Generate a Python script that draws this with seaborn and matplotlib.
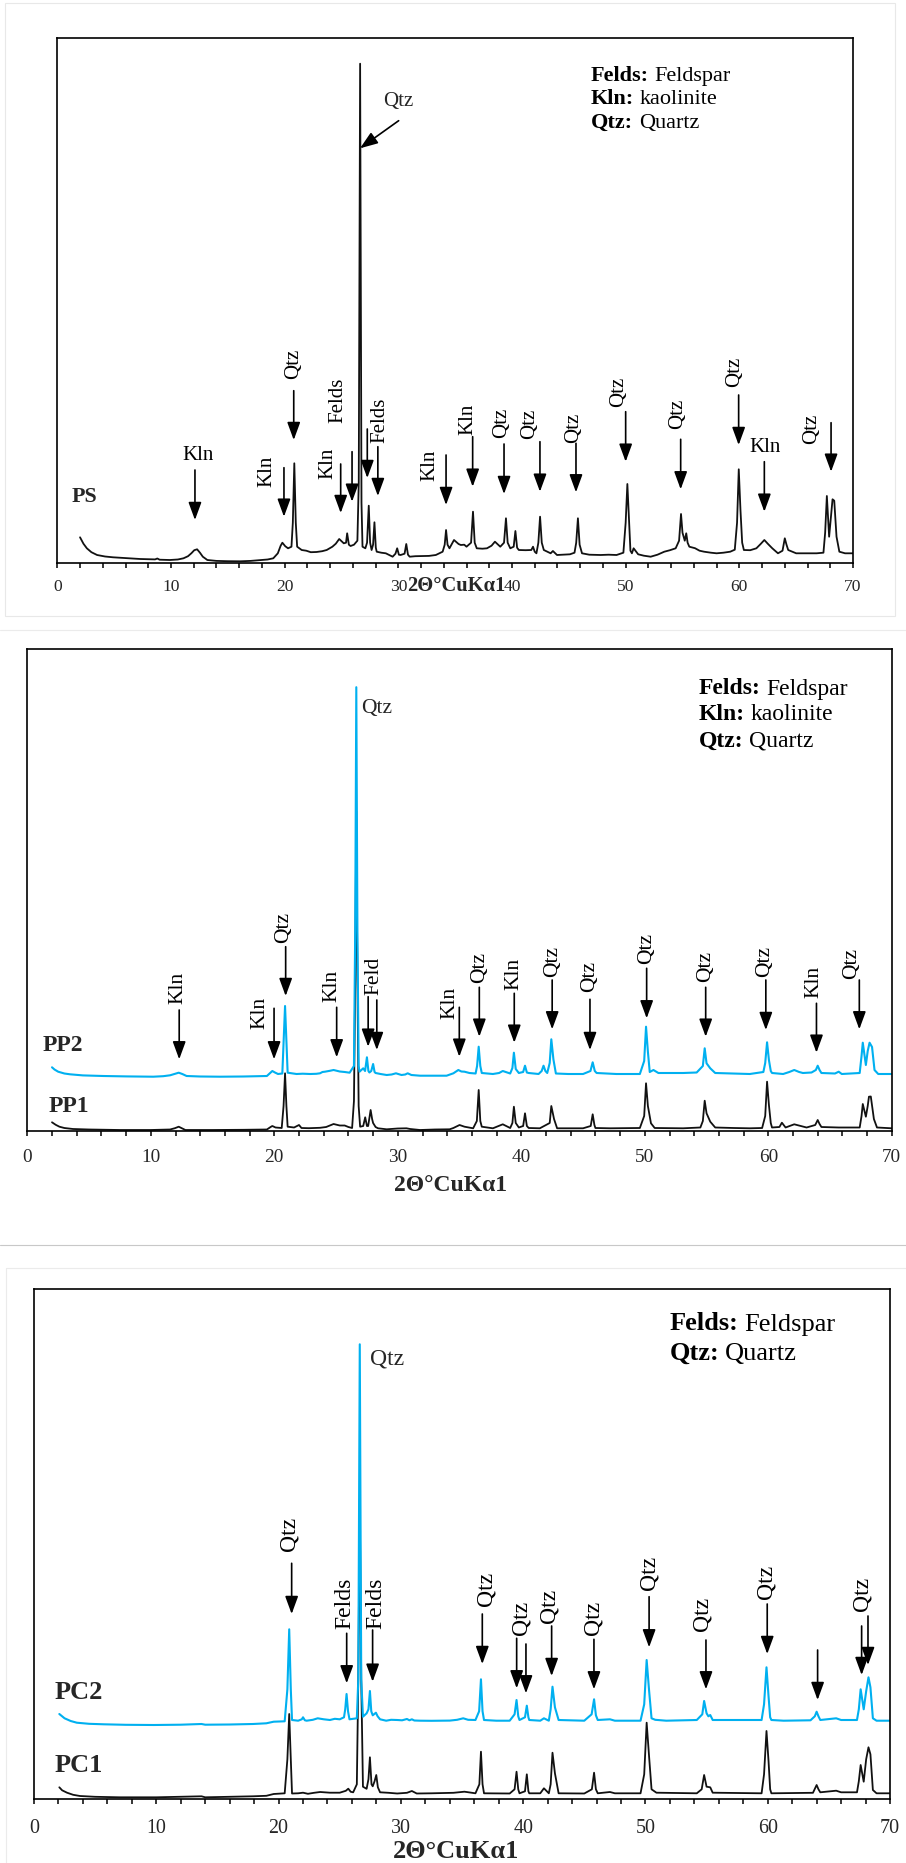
import matplotlib
matplotlib.use("Agg")
import matplotlib.pyplot as plt
import seaborn as sns
from matplotlib.offsetbox import TextArea, HPacker, AnnotationBbox
from matplotlib.lines import Line2D
from matplotlib.patches import Rectangle

# ---------------- data (2θ in degrees, intensity in arbitrary units) ----------------
ps_points = [
    (2.0, 25.4), (2.3, 19), (2.6, 14.4), (3.0, 10.5), (3.5, 7.7), (4.2, 6.2), (4.9, 5.4), (6.0, 4.6),
    (7.3, 3.7), (8.6, 3.3), (8.8, 4.2), (9.0, 3.0), (9.9, 2.7), (10.6, 3.2), (11.1, 4.4), (11.5, 6.5),
    (11.8, 9.5), (12.05, 12.5), (12.3, 13.4), (12.55, 10), (12.8, 6), (13.2, 2.7), (14.0, 1.8), (15.0, 1.5),
    (16.1, 1.4), (17.0, 1.8), (17.9, 2.7), (18.5, 3.2), (19.0, 4.4), (19.4, 9.4), (19.65, 17), (19.8, 20),
    (20.05, 16.5), (20.3, 14.4), (20.6, 16), (20.72, 40), (20.85, 99.4), (20.98, 40), (21.1, 16), (21.5, 12.7),
    (21.9, 12), (22.3, 10.5), (22.8, 10.7), (23.3, 11.5), (23.7, 12.7), (24.2, 16), (24.5, 19), (24.8, 23.7),
    (25.2, 19.4), (25.4, 20), (25.5, 29.4), (25.65, 18), (25.8, 16.7), (26.1, 18), (26.4, 22), (26.52, 80),
    (26.64, 499), (26.76, 60), (26.85, 16), (27.1, 14.4), (27.25, 20), (27.4, 57), (27.52, 20), (27.65, 12.7),
    (27.78, 18), (27.9, 40.4), (28.02, 15), (28.1, 11), (28.5, 10), (28.9, 9.4), (29.5, 6), (29.75, 9),
    (29.9, 14.4), (30.05, 8), (30.2, 7.7), (30.55, 9), (30.7, 18.7), (30.85, 8), (31.0, 6), (31.5, 6.5),
    (32.1, 6.7), (32.7, 6.8), (33.3, 7.7), (33.9, 11), (34.08, 18), (34.2, 32.7), (34.33, 18), (34.5, 14.4),
    (34.9, 22.7), (35.3, 18.7), (35.5, 17.7), (35.8, 18), (36.0, 16), (36.4, 20), (36.57, 51), (36.72, 20),
    (36.9, 14.4), (37.4, 14), (37.8, 14.4), (38.2, 17), (38.5, 21), (38.97, 16), (39.3, 20), (39.47, 44.4),
    (39.62, 20), (39.85, 14.4), (40.15, 16), (40.3, 31.7), (40.45, 15), (40.6, 12.7), (41.2, 12.5), (41.7, 12.7),
    (41.85, 16), (42.0, 11), (42.15, 9.4), (42.32, 20), (42.47, 46), (42.62, 20), (42.8, 12.7), (43.4, 9.4),
    (43.6, 11.7), (43.96, 7.7), (44.5, 8), (45.1, 8.4), (45.5, 10), (45.65, 20), (45.8, 44.4), (45.95, 18),
    (46.16, 9.4), (46.8, 8), (47.8, 7.7), (48.5, 8), (49.2, 7.7), (49.8, 10), (50.0, 40), (50.15, 78.7),
    (50.3, 42.7), (50.42, 12), (50.55, 9.4), (50.7, 14.4), (51.1, 8.4), (51.6, 7), (52.2, 6), (52.8, 8),
    (53.4, 11), (53.9, 12.5), (54.4, 14.4), (54.7, 22), (54.87, 48.7), (55.0, 30), (55.1, 26), (55.2, 22),
    (55.33, 29.4), (55.45, 20), (55.6, 16), (56.1, 14.5), (56.5, 12), (56.9, 11), (57.5, 10), (58.0, 9.4),
    (58.6, 10), (59.2, 11), (59.6, 13), (59.8, 40), (59.95, 93.4), (60.1, 52.7), (60.25, 20), (60.4, 12.7),
    (60.96, 12.5), (61.5, 14.4), (61.9, 19), (62.2, 22.7), (62.5, 19), (62.9, 14.4), (63.4, 9.4), (63.8, 12),
    (64.0, 24.4), (64.15, 18), (64.3, 12.7), (65.0, 9.4), (65.9, 9.4), (66.8, 9.4), (67.4, 10), (67.55, 30),
    (67.7, 66.7), (67.9, 26), (68.05, 45), (68.2, 63.4), (68.35, 62), (68.55, 26), (68.8, 11), (69.3, 9.4),
    (70.0, 9.4),
]

pp2_points = [
    (2.0, 63.7), (2.2, 61.5), (2.5, 59.3), (3.0, 57.5), (3.46, 56.7), (4.5, 55.6), (6.16, 55), (8.0, 54.6),
    (10.2, 54.3), (11.0, 54.8), (11.56, 55.7), (12.0, 57.3), (12.26, 58.3), (12.55, 57), (12.9, 55), (14.0, 54.5),
    (15.6, 54.3), (17.5, 54.5), (19.4, 55), (19.7, 58.5), (19.84, 60), (20.05, 58.5), (20.3, 57), (20.65, 57.5),
    (20.76, 90), (20.87, 125), (20.98, 90), (21.08, 58.3), (21.8, 57), (22.3, 57.3), (22.9, 57), (23.4, 57.2),
    (23.7, 57.7), (23.9, 59), (24.1, 59.3), (24.5, 60.2), (24.8, 61), (25.3, 59.5), (25.7, 59), (26.1, 58.3),
    (26.45, 65), (26.55, 200), (26.64, 443.8), (26.73, 200), (26.83, 65), (26.9, 59.3), (27.05, 61), (27.2, 62.7),
    (27.35, 60), (27.5, 73.7), (27.62, 60), (27.7, 58.5), (27.85, 60), (28.0, 67), (28.12, 59), (28.2, 58),
    (28.6, 57), (29.1, 56), (29.5, 56.5), (29.85, 57.7), (30.3, 56), (30.6, 56.5), (30.8, 57.7), (31.1, 56),
    (31.8, 55.3), (33.0, 55.3), (33.95, 55.3), (34.5, 57.7), (34.9, 61), (35.15, 59.5), (35.4, 59.3), (35.8, 58),
    (36.3, 57.5), (36.42, 65), (36.55, 84.3), (36.68, 65), (36.8, 58), (37.7, 57), (38.2, 58), (38.5, 60),
    (39.1, 57.5), (39.28, 63), (39.4, 78.3), (39.55, 62), (39.8, 58), (40.15, 59), (40.3, 65.3), (40.45, 58.5),
    (40.6, 58), (41.4, 57), (41.65, 60), (41.8, 65.3), (41.95, 60), (42.1, 58), (42.3, 68), (42.43, 91.7),
    (42.6, 71.7), (42.8, 57.5), (43.8, 57), (45.0, 57), (45.6, 60), (45.78, 68.7), (45.95, 60), (46.1, 58),
    (47.7, 57), (49.6, 57), (49.95, 70), (50.1, 104.3), (50.25, 79.3), (50.4, 59), (50.7, 61), (51.1, 58),
    (53.1, 58), (54.2, 58.5), (54.7, 65), (54.85, 82.7), (55.0, 67.7), (55.3, 62.7), (55.7, 58), (57.0, 57.5),
    (58.5, 57), (59.6, 59), (59.75, 68), (59.9, 88.7), (60.05, 71), (60.2, 60), (60.3, 58), (61.2, 57),
    (61.7, 59), (62.1, 61), (62.5, 59), (62.8, 58), (63.5, 58.5), (63.85, 61), (64.0, 65.3), (64.15, 61),
    (64.3, 58), (65.4, 57.5), (65.7, 59.3), (65.95, 57), (67.4, 58), (67.55, 75), (67.65, 88.3), (67.9, 66),
    (68.05, 80), (68.2, 88.3), (68.4, 84), (68.6, 61), (68.9, 57), (70.0, 57),
]

pp1_points = [
    (2.0, 8.7), (2.3, 6.2), (2.6, 4.3), (3.0, 3.0), (3.7, 2), (5.0, 1.5), (7.5, 1), (10.0, 1),
    (11.56, 1.5), (11.95, 2.8), (12.26, 4.3), (12.55, 2.5), (12.8, 1), (15.0, 1), (17.5, 1.2), (19.4, 1.5),
    (19.7, 4), (19.84, 5), (20.1, 3.5), (20.6, 3), (20.75, 25), (20.87, 57.7), (20.98, 25), (21.08, 4.3),
    (21.6, 3.5), (22.0, 6), (22.2, 3), (22.8, 2.8), (23.7, 3.2), (24.2, 4), (24.8, 7), (25.3, 5.5),
    (25.7, 5.5), (26.0, 4), (26.3, 3), (26.45, 30), (26.55, 150), (26.64, 320), (26.73, 150), (26.83, 25),
    (26.95, 4.3), (27.2, 5), (27.36, 13.7), (27.5, 5), (27.6, 5), (27.8, 21), (27.92, 12), (28.0, 8),
    (28.2, 4), (28.4, 2.7), (29.1, 1.7), (30.0, 2.5), (30.7, 2.7), (31.0, 2), (31.8, 1), (33.0, 1.5),
    (34.2, 1.7), (34.5, 3), (35.0, 6), (35.4, 4.3), (36.1, 2.7), (36.4, 10), (36.55, 41), (36.68, 10),
    (36.8, 4.3), (37.7, 2.7), (38.5, 6.7), (39.1, 3), (39.28, 8), (39.4, 24.3), (39.55, 8), (39.8, 3.5),
    (40.15, 5), (40.3, 17.7), (40.45, 5), (40.6, 3), (41.5, 2.7), (42.3, 8), (42.43, 25), (42.65, 12),
    (42.9, 2.7), (45.0, 2.7), (45.62, 5), (45.78, 16.7), (45.92, 6), (46.0, 3), (47.2, 2.7), (49.6, 3),
    (49.95, 15), (50.1, 47.7), (50.25, 25), (50.5, 7.7), (50.8, 3), (53.1, 2.7), (54.5, 3.5), (54.7, 10),
    (54.85, 30.3), (55.0, 17.7), (55.3, 9.3), (55.7, 3.5), (57.2, 3), (58.5, 2.7), (59.5, 3), (59.75, 15),
    (59.9, 49.3), (60.05, 26), (60.2, 8), (60.3, 3.5), (60.9, 4), (61.1, 8.3), (61.4, 3.5), (62.1, 6.7),
    (63.1, 3.5), (63.8, 6), (64.0, 11), (64.15, 7), (64.3, 4), (65.7, 3.5), (67.4, 3.5), (67.55, 15),
    (67.65, 27), (67.9, 14.3), (68.05, 25), (68.15, 34.3), (68.3, 34.5), (68.55, 12), (68.8, 3.5), (70.0, 2.7),
]

pc2_points = [
    (2.07, 85.3), (2.3, 83), (2.5, 81), (3.0, 78.3), (3.5, 76.6), (4.5, 75.5), (5.7, 75), (7.5, 74.5),
    (9.8, 74.3), (12.0, 74.6), (13.7, 75.3), (14.0, 74.6), (16.0, 74.8), (17.9, 75.3), (19.0, 76), (19.6, 77.6),
    (20.5, 78), (20.72, 110), (20.87, 170), (21.0, 110), (21.1, 79.3), (21.6, 78.6), (21.9, 80), (22.0, 82),
    (22.15, 79), (22.3, 78.6), (22.8, 79.5), (23.2, 81), (23.7, 80), (24.2, 79.3), (24.6, 80.5), (25.0, 80),
    (25.35, 82), (25.45, 90), (25.56, 105.3), (25.68, 88), (25.8, 80), (26.1, 80.5), (26.4, 81), (26.52, 120),
    (26.64, 455), (26.76, 120), (26.9, 82.6), (27.2, 86), (27.35, 90), (27.47, 108.3), (27.58, 88), (27.7, 84),
    (27.96, 86.6), (28.1, 83), (28.3, 80), (28.8, 78.6), (29.2, 79.5), (29.7, 79.3), (30.1, 79), (30.5, 80.3),
    (30.7, 79), (30.9, 80), (31.1, 78.8), (31.6, 78.6), (32.5, 78.5), (33.3, 78.6), (34.0, 78.7), (34.6, 79.5),
    (35.1, 81), (35.5, 79.5), (36.1, 79.3), (36.4, 88), (36.55, 120), (36.68, 88), (36.8, 79.3), (37.8, 78.6),
    (38.9, 78.6), (39.3, 85), (39.46, 99.3), (39.6, 83), (39.7, 79.3), (40.15, 82), (40.3, 93.6), (40.43, 82),
    (40.5, 79.3), (41.4, 78.6), (41.7, 81), (42.1, 78.6), (42.25, 90), (42.4, 112.6), (42.6, 92), (42.9, 79.3),
    (45.0, 78.6), (45.6, 85), (45.8, 100), (45.95, 84), (46.1, 79.3), (47.1, 80), (47.5, 78.6), (49.6, 78.6),
    (49.9, 95), (50.1, 139.3), (50.3, 108.6), (50.5, 81), (50.8, 79.5), (51.7, 78.6), (54.2, 79.3), (54.65, 85),
    (54.8, 98.3), (55.0, 86), (55.15, 83), (55.3, 84.3), (55.5, 79.3), (57.2, 79.3), (59.5, 79.3), (59.7, 95),
    (59.9, 132), (60.07, 102.6), (60.2, 82), (60.3, 79.3), (61.3, 78.6), (63.5, 79), (63.85, 83), (64.0, 87.6),
    (64.15, 83), (64.3, 79.3), (65.6, 81), (66.0, 79.3), (67.3, 79.3), (67.45, 90), (67.6, 110), (67.85, 90),
    (68.05, 108), (68.24, 122), (68.4, 112), (68.6, 81), (68.9, 78.6), (70.0, 78.6),
]

pc1_points = [
    (2.07, 12), (2.3, 9), (2.7, 6.6), (3.2, 4.5), (3.76, 3.3), (5.0, 2.5), (7.0, 2), (10.0, 2),
    (13.7, 3), (14.0, 2), (17.9, 3), (19.0, 3.5), (19.6, 5.3), (20.5, 6), (20.72, 40), (20.87, 85.3),
    (21.0, 40), (21.1, 5.8), (21.6, 6), (22.0, 6.6), (22.4, 5.5), (22.9, 6.5), (23.4, 7.3), (24.2, 6.6),
    (25.0, 6.6), (25.5, 8.5), (25.7, 10.6), (25.9, 7.5), (26.1, 7), (26.4, 15), (26.52, 120), (26.64, 300),
    (26.76, 120), (26.9, 12.6), (27.2, 10.5), (27.35, 20), (27.47, 42), (27.6, 15), (27.7, 13), (27.85, 18),
    (27.99, 24.3), (28.12, 12), (28.3, 7), (29.0, 6.5), (29.7, 5.8), (30.5, 6.5), (30.9, 8.3), (31.3, 5.8),
    (32.5, 6), (34.3, 6.5), (35.2, 7.6), (36.1, 6), (36.42, 15), (36.55, 47.6), (36.68, 15), (36.8, 6),
    (38.9, 5.8), (39.3, 10), (39.46, 27.6), (39.6, 10), (39.7, 6), (40.15, 8), (40.3, 25), (40.43, 8),
    (40.5, 6), (41.4, 6), (41.7, 11), (42.1, 6), (42.25, 15), (42.4, 46.6), (42.6, 26), (42.9, 6),
    (45.0, 5.8), (45.62, 10), (45.8, 26.6), (45.95, 10), (46.1, 6), (47.1, 7.3), (47.5, 6), (49.6, 6),
    (49.9, 25), (50.1, 76.6), (50.3, 42.6), (50.5, 10), (50.9, 6.6), (54.2, 6), (54.6, 10), (54.8, 24.3),
    (55.0, 12.6), (55.3, 12), (55.5, 6.6), (59.5, 6), (59.7, 25), (59.9, 68.3), (60.07, 37.6), (60.2, 10),
    (60.3, 6), (63.7, 6.5), (64.0, 14.3), (64.15, 10), (64.3, 7), (65.6, 8.6), (66.0, 7), (67.3, 7),
    (67.45, 18), (67.6, 34.3), (67.85, 17.6), (68.05, 40), (68.24, 52), (68.4, 45), (68.6, 9.3), (68.9, 6),
    (70.0, 6),
]

x_ticks = [0, 10, 20, 30, 40, 50, 60, 70]
x_label = "2Θ°CuKα1"
legend_p1 = [("Felds:", "Feldspar"), ("Kln:", "kaolinite"), ("Qtz:", "Quartz")]
legend_p2 = [("Felds:", "Feldspar"), ("Kln:", "kaolinite"), ("Qtz:", "Quartz")]
legend_p3 = [("Felds:", "Feldspar"), ("Qtz:", "Quartz")]

# peak annotations: (label, text x, text y, rotation, [(arrow x, arrow top, arrow tip), ...])
notes_p1 = [
    ("Kln", 12.4, 107.7, 0, [(12.11, 92.7, 42.7)]),
    ("Kln", 18.42, 91, 90, [(19.94, 95, 46)]),
    ("Qtz", 20.76, 198.7, 90, [(20.8, 172, 122.7)]),
    ("Kln", 23.84, 99.7, 90, [(24.93, 98.7, 49.7)]),
    ("Felds", 24.72, 162.7, 90, [(25.93, 111, 61), (27.27, 133.7, 84.7)]),
    ("Felds", 28.39, 142.7, 90, [(28.2, 116, 66.7)]),
    ("Kln", 32.79, 97.7, 90, [(34.2, 107.7, 57.7)]),
    ("Kln", 36.16, 143.7, 90, [(36.54, 126, 76)]),
    ("Qtz", 39.1, 139.7, 90, [(39.3, 118.7, 68.7)]),
    ("Qtz", 41.59, 138.7, 90, [(42.46, 121, 71)]),
    ("Qtz", 45.4, 135.2, 90, [(45.63, 119.4, 70.4)]),
    ("Qtz", 49.35, 171, 90, [(50.0, 151, 101)]),
    ("Qtz", 54.54, 148.7, 90, [(54.84, 123.4, 73.4)]),
    ("Qtz", 59.62, 191, 90, [(59.94, 167.7, 117.7)]),
    ("Kln", 62.26, 115.4, 0, [(62.2, 101, 51)]),
    ("Qtz", 66.37, 133.7, 90, [(68.07, 140, 91)]),
]
notes_p2 = [
    ("Kln", 12.2, 142.7, 90, [(12.3, 121, 71.7)]),
    ("Kln", 18.8, 117.7, 90, [(19.98, 122.7, 71.7)]),
    ("Qtz", 20.73, 203.5, 90, [(20.92, 184.3, 135)]),
    ("Kln", 24.7, 145, 90, [(25.05, 123.7, 73.7)]),
    ("Feld", 28.07, 155, 90, [(27.6, 134.3, 84.3), (28.3, 131, 81)]),
    ("Kln", 34.2, 128.5, 90, [(34.98, 123.7, 74.3)]),
    ("Qtz", 36.6, 163.5, 90, [(36.6, 143.7, 94.3)]),
    ("Kln", 39.4, 157, 90, [(39.43, 137.7, 88.3)]),
    ("Qtz", 42.5, 169.3, 90, [(42.5, 151, 101.7)]),
    ("Qtz", 45.5, 154.3, 90, [(45.56, 131.7, 81)]),
    ("Qtz", 50.15, 182.7, 90, [(50.15, 162.7, 112.7)]),
    ("Qtz", 54.9, 164.3, 90, [(54.93, 143.7, 94.3)]),
    ("Qtz", 59.7, 169.3, 90, [(59.8, 151, 101)]),
    ("Kln", 63.7, 149.3, 90, [(63.9, 127.7, 78.3)]),
    ("Qtz", 66.75, 167.7, 90, [(67.37, 151, 101.7)]),
]
notes_p3 = [
    ("Qtz", 20.88, 265.3, 90, [(21.07, 236, 185.3)]),
    ("Felds", 25.43, 196, 90, [(25.57, 166, 116)]),
    ("Felds", 27.96, 196, 90, [(27.69, 169.3, 117.6)]),
    ("Qtz", 37.0, 210, 90, [(36.66, 185.3, 135.3)]),
    ("Qtz", 39.8, 181.8, 90, [(39.47, 161, 111), (40.23, 155.3, 106)]),
    ("Qtz", 42.1, 193.5, 90, [(42.33, 173.3, 123.3)]),
    ("Qtz", 45.73, 181.8, 90, [(45.79, 160, 110)]),
    ("Qtz", 50.3, 226.8, 90, [(50.3, 202.6, 152)]),
    ("Qtz", 54.6, 185.3, 90, [(54.95, 159.3, 110)]),
    ("Qtz", 59.85, 217.3, 90, [(59.96, 195.3, 145.3)]),
    ("", 64.08, 0, 90, [(64.08, 149.3, 99.3)]),
    ("Qtz", 67.68, 205.3, 90, [(67.68, 173.3, 124.3), (68.2, 183.3, 134.3)]),
]

BLUE = "#00B0F0"
BLACK = "#111111"

# ---------------- figure ----------------
sns.set_theme(style="white")
plt.rcParams["font.family"] = ["Liberation Serif", "DejaVu Serif"]

W, H = 906, 1863
fig = plt.figure(figsize=(W / 100, H / 100), dpi=100)
fig.patch.set_facecolor("white")


def add_axes_px(left, top, right, bottom):
    return fig.add_axes([left / W, 1 - bottom / H, (right - left) / W, (bottom - top) / H])


def style_axes(ax, ytop, tick_fs, tick_pad, xlab_fs, xlab_pos):
    ax.set_xlim(0, 70)
    ax.set_ylim(0, ytop)
    ax.set_xticks(x_ticks)
    ax.set_xticks(list(range(0, 71, 2)), minor=True)
    ax.set_xticklabels([str(t) for t in x_ticks], fontsize=tick_fs)
    ax.set_yticks([])
    ax.tick_params(axis="x", which="both", direction="out", length=3.6, width=1.1,
                   color="black", bottom=True, top=False, pad=tick_pad)
    for s in ax.spines.values():
        s.set_visible(True)
        s.set_color("black")
        s.set_linewidth(1.2)
    ax.set_xlabel(x_label, fontsize=xlab_fs, fontweight="bold")
    ax.xaxis.label.set_va("center")
    ax.xaxis.set_label_coords(*xlab_pos)
    ax.set_ylabel("")
    ax.set_facecolor("white")


def draw_notes(ax, notes, fs):
    for label, tx, ty, rot, arrows in notes:
        if label:
            ax.text(tx, ty, label, rotation=rot, ha="center", va="center", fontsize=fs, color="black")
        for axx, a_top, a_tip in arrows:
            ax.annotate("", xy=(axx, a_tip), xytext=(axx, a_top),
                        arrowprops=dict(arrowstyle="-|>,head_length=0.9,head_width=0.33",
                                        color="black", lw=1.2, shrinkA=0, shrinkB=0))


def draw_legend(entries, x_px, y_px_list, fs):
    for (bold, normal), y_px in zip(entries, y_px_list):
        box = HPacker(children=[TextArea(bold, textprops=dict(fontsize=fs, fontweight="bold", color="black")),
                                TextArea(normal, textprops=dict(fontsize=fs, color="black"))],
                      align="baseline", pad=0, sep=4)
        ab = AnnotationBbox(box, (x_px, H - y_px), xycoords="figure pixels", box_alignment=(0, 0.5),
                            frameon=False, pad=0)
        fig.add_artist(ab)


def trace(ax, pts, color, lw):
    xs = [p[0] for p in pts]
    ys = [p[1] for p in pts]
    sns.lineplot(x=xs, y=ys, ax=ax, color=color, linewidth=lw, estimator=None, sort=False)


# ---- panel 1 : PS ----
ax1 = add_axes_px(57.3, 38, 853, 562.7)
trace(ax1, ps_points, BLACK, 1.3)
style_axes(ax1, 524.7, 12.6, 8.0, 14.8, (0.5016, -0.044))
draw_notes(ax1, notes_p1, 15)
ax1.annotate("", xy=(26.63, 414.4), xytext=(30.03, 442),
             arrowprops=dict(arrowstyle="-|>,head_length=0.9,head_width=0.33",
                             color="black", lw=1.2, shrinkA=0, shrinkB=0))
ax1.text(30.0, 461, "Qtz", ha="center", va="center", fontsize=15)
ax1.text(2.4, 66, "PS", ha="center", va="center", fontsize=15.8, fontweight="bold")
draw_legend(legend_p1, 591, [76, 99.5, 123], 16)

# ---- panel 2 : PP1 / PP2 ----
ax2 = add_axes_px(27.3, 648.9, 891.8, 1131)
trace(ax2, pp1_points, BLACK, 1.3)
trace(ax2, pp2_points, BLUE, 1.5)
style_axes(ax2, 482.1, 13.9, 9.5, 17, (0.4897, -0.1128))
draw_notes(ax2, notes_p2, 15.5)
ax2.text(27.0, 422, "Qtz", ha="left", va="center", fontsize=15.5)
ax2.text(2.85, 85.3, "PP2", ha="center", va="center", fontsize=17, fontweight="bold")
ax2.text(3.36, 24.3, "PP1", ha="center", va="center", fontsize=17, fontweight="bold")
draw_legend(legend_p2, 699, [689, 715, 741], 17)

# ---- panel 3 : PC1 / PC2 ----
ax3 = add_axes_px(34, 1289, 890, 1799.3)
trace(ax3, pc1_points, BLACK, 1.3)
trace(ax3, pc2_points, BLUE, 1.5)
style_axes(ax3, 510.3, 14.4, 10.8, 19, (0.493, -0.1029))
draw_notes(ax3, notes_p3, 17)
ax3.text(27.45, 440, "Qtz", ha="left", va="center", fontsize=17)
ax3.text(3.7, 106.6, "PC2", ha="center", va="center", fontsize=19, fontweight="bold")
ax3.text(3.66, 33.6, "PC1", ha="center", va="center", fontsize=19, fontweight="bold")
draw_legend(legend_p3, 670, [1324, 1353.5], 19)

# ---- faint panel frames ----
fig.add_artist(Rectangle((5 / W, 1 - 616 / H), (895 - 5) / W, (616 - 3) / H, transform=fig.transFigure,
                         fill=False, ec="#e8e8e8", lw=0.8))
for y, c, x0 in [(630, "#ebebeb", 0), (1245, "#c8c8c8", 0), (1268, "#ebebeb", 6)]:
    fig.add_artist(Line2D([x0 / W, 1], [1 - y / H, 1 - y / H], transform=fig.transFigure, color=c, lw=0.8))
fig.add_artist(Line2D([6 / W, 6 / W], [1 - 1268 / H, 0], transform=fig.transFigure, color="#ebebeb", lw=0.8))

fig.savefig("out.png", dpi=100)
